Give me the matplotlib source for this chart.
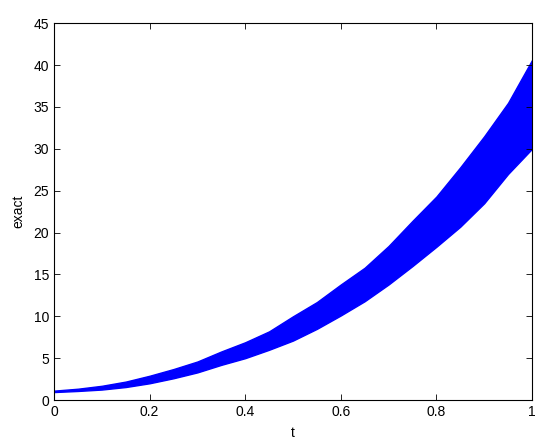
import numpy as np
import matplotlib
matplotlib.use('Agg')
import matplotlib.pyplot as plt

# Envelope of the oscillating solution
t = [0.0, 0.05, 0.1, 0.15, 0.2, 0.25, 0.3, 0.35, 0.4, 0.45, 0.5,
     0.55, 0.6, 0.65, 0.7, 0.75, 0.8, 0.85, 0.9, 0.95, 1.0]
upper = [1.12, 1.35, 1.7, 2.2, 2.9, 3.7, 4.6, 5.8, 6.9, 8.2, 10.0,
         11.7, 13.8, 15.8, 18.4, 21.4, 24.3, 27.8, 31.5, 35.5, 40.6]
lower = [0.95, 1.08, 1.25, 1.55, 2.0, 2.6, 3.3, 4.2, 5.0, 6.0, 7.1,
         8.5, 10.1, 11.8, 13.8, 16.0, 18.3, 20.7, 23.5, 27.0, 30.0]

xticks = [0, 0.2, 0.4, 0.6, 0.8, 1]
yticks = [0, 5, 10, 15, 20, 25, 30, 35, 40, 45]

plt.rcParams['font.family'] = ['Liberation Sans', 'DejaVu Sans']

fig = plt.figure(figsize=(5.5, 4.48), dpi=100)
ax = fig.add_axes([0.0982, 0.1071, 0.869, 0.841])

# Band of the fast oscillation
ax.fill_between(t, lower, upper, color='#0000ff', linewidth=1.0, edgecolor='#0000ff')

ax.set_xlim(0, 1)
ax.set_ylim(0, 45)
ax.set_xticks(xticks)
ax.set_xticklabels(['0', '0.2', '0.4', '0.6', '0.8', '1'])
ax.set_yticks(yticks)

ax.tick_params(direction='in', length=4, width=0.6, top=True, right=True, labelsize=10)
for s in ax.spines.values():
    s.set_linewidth(0.8)

ax.set_xlabel('t', fontsize=10, labelpad=5)
ax.set_ylabel('exact', fontsize=10, labelpad=6)

fig.savefig('out.png', dpi=100)
